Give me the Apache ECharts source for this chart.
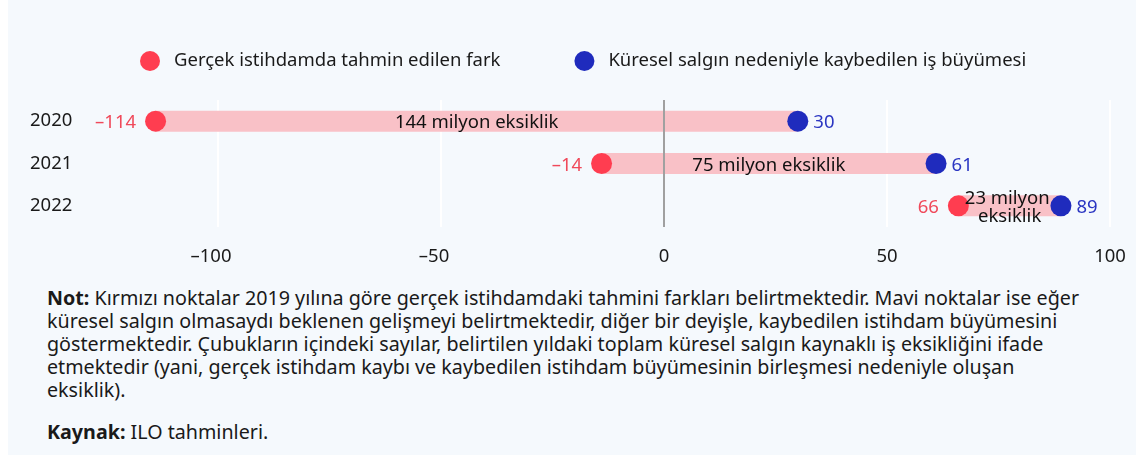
<!DOCTYPE html>
<html>
<head>
<meta charset="utf-8">
<script src="https://cdn.jsdelivr.net/npm/echarts@6/dist/echarts.min.js"></script>
<style>
  body { margin: 0; background: #fff; font-family: "Noto Sans", sans-serif; }
  #panel { position: absolute; left: 8px; top: 0; width: 1128px; height: 455px; background: #f5f9fd; }
  #chart_block { position: absolute; left: 0; top: 0; width: 1136px; height: 275px; }
  #note { position: absolute; left: 47px; top: 286px; font-size: 19.7px; line-height: 23px; color: #1a1a1a; white-space: nowrap; }
  #note p { margin: 0 0 19px 0; }
</style>
</head>
<body>
<div id="panel"></div>
<div id="chart_block"></div>
<div id="note">
  <p><b>Not:</b> Kırmızı noktalar 2019 yılına göre gerçek istihdamdaki tahmini farkları belirtmektedir. Mavi noktalar ise eğer<br>küresel salgın olmasaydı beklenen gelişmeyi belirtmektedir, diğer bir deyişle, kaybedilen istihdam büyümesini<br>göstermektedir. Çubukların içindeki sayılar, belirtilen yıldaki toplam küresel salgın kaynaklı iş eksikliğini ifade<br>etmektedir (yani, gerçek istihdam kaybı ve kaybedilen istihdam büyümesinin birleşmesi nedeniyle oluşan<br>eksiklik).</p>
  <p><b>Kaynak:</b> ILO tahminleri.</p>
</div>
<script>
var years = ['2020', '2021', '2022'];
var actual_gap = [-114, -14, 66];      // kirmizi noktalar
var lost_growth = [30, 61, 89];        // mavi noktalar
var shortfall = [144, 75, 23];         // cubuk icindeki sayilar
var x_ticks = [-100, -50, 0, 50, 100];

const redColor = '#ff3d50';
const blueColor = '#1f2bbd';
const barColor = '#f9c1c7';
const font = '"Noto Sans", sans-serif';
const fs = 18.5;

var chartDom = document.getElementById('chart_block');
var myChart = echarts.init(chartDom, null, { renderer: 'canvas' });

function fmt(v) {
  return v < 0 ? '–' + Math.abs(v) : '' + v;
}

// [baslangic, yil, bitis]
var ranges = years.map(function (y, i) { return [actual_gap[i], i, lost_growth[i]]; });

var options = {
  animation: false,
  textStyle: { fontFamily: font },
  legend: {
    left: 135,
    top: 46,
    icon: 'circle',
    itemWidth: 20,
    itemHeight: 20,
    itemGap: 74,
    textStyle: { fontSize: fs, color: '#1a1a1a', fontFamily: font, padding: [0, 0, 0, 9] },
    data: ['Gerçek istihdamda tahmin edilen fark', 'Küresel salgın nedeniyle kaybedilen iş büyümesi']
  },
  grid: {
    left: -5,
    width: 1115,
    top: 100,
    height: 127,
    outerBoundsMode: 'none'
  },
  xAxis: {
    type: 'value',
    min: -150,
    max: 100,
    interval: 50,
    axisLine: { show: false },
    axisTick: { show: false },
    splitLine: { show: true, lineStyle: { color: '#ffffff', width: 2 } },
    axisLabel: {
      margin: 20,
      fontSize: fs,
      color: '#1a1a1a',
      fontFamily: font,
      formatter: function (v) {
        if (x_ticks.indexOf(v) < 0) return '';
        if (v < 0) return '{n|' + fmt(v) + '}';
        return fmt(v);
      },
      rich: {
        n: { fontSize: fs, color: '#1a1a1a', fontFamily: font, padding: [0, 14, 0, 0] }
      }
    }
  },
  yAxis: {
    type: 'category',
    data: years,
    inverse: true,
    axisLine: { show: false },
    axisTick: { show: false },
    splitLine: { show: false },
    axisLabel: { inside: true, margin: 35, fontSize: fs, color: '#1a1a1a', fontFamily: font, padding: [5, 0, 0, 0] }
  },
  series: [
    {
      name: 'bars',
      type: 'custom',
      z: 1,
      encode: { x: 0, y: 1 },
      data: ranges,
      renderItem: function (params, api) {
        var s = api.coord([api.value(0), api.value(1)]);
        var e = api.coord([api.value(2), api.value(1)]);
        var h = 21;
        return {
          type: 'rect',
          shape: { x: s[0], y: s[1] - h / 2, width: e[0] - s[0], height: h },
          style: { fill: barColor }
        };
      }
    },
    {
      name: 'Gerçek istihdamda tahmin edilen fark',
      type: 'scatter',
      z: 3,
      symbol: 'circle',
      symbolSize: 21,
      itemStyle: { color: redColor, opacity: 1 },
      label: {
        show: true,
        position: 'left',
        distance: 9,
        offset: [0, 2],
        fontSize: fs,
        color: '#f0495a',
        fontFamily: font,
        formatter: function (p) { return fmt(p.value[0]); }
      },
      markLine: {
        silent: true,
        symbol: 'none',
        label: { show: false },
        lineStyle: { color: '#a0a0a0', width: 2, type: 'solid' },
        data: [{ xAxis: 0 }]
      },
      data: years.map(function (y, i) { return [actual_gap[i], i]; })
    },
    {
      name: 'Küresel salgın nedeniyle kaybedilen iş büyümesi',
      type: 'scatter',
      z: 3,
      symbol: 'circle',
      symbolSize: 21,
      itemStyle: { color: blueColor, opacity: 1 },
      label: {
        show: true,
        position: 'right',
        distance: 5,
        offset: [0, 2],
        fontSize: fs,
        color: '#2b36c2',
        fontFamily: font,
        formatter: function (p) { return fmt(p.value[0]); }
      },
      data: years.map(function (y, i) { return [lost_growth[i], i]; })
    },
    {
      name: 'bar_labels',
      type: 'custom',
      z: 5,
      encode: { x: 0, y: 1 },
      data: ranges,
      renderItem: function (params, api) {
        var s = api.coord([api.value(0), api.value(1)]);
        var e = api.coord([api.value(2), api.value(1)]);
        return {
          type: 'text',
          x: (s[0] + e[0]) / 2,
          y: s[1] + 2,
          style: {
            text: shortfall[params.dataIndex] + ' milyon eksiklik',
            width: e[0] - s[0],
            overflow: 'break',
            align: 'center',
            verticalAlign: 'middle',
            lineHeight: 18,
            fill: '#111111',
            fontSize: fs,
            fontFamily: font
          }
        };
      }
    }
  ]
};

myChart.setOption(options, true);
</script>
</body>
</html>
